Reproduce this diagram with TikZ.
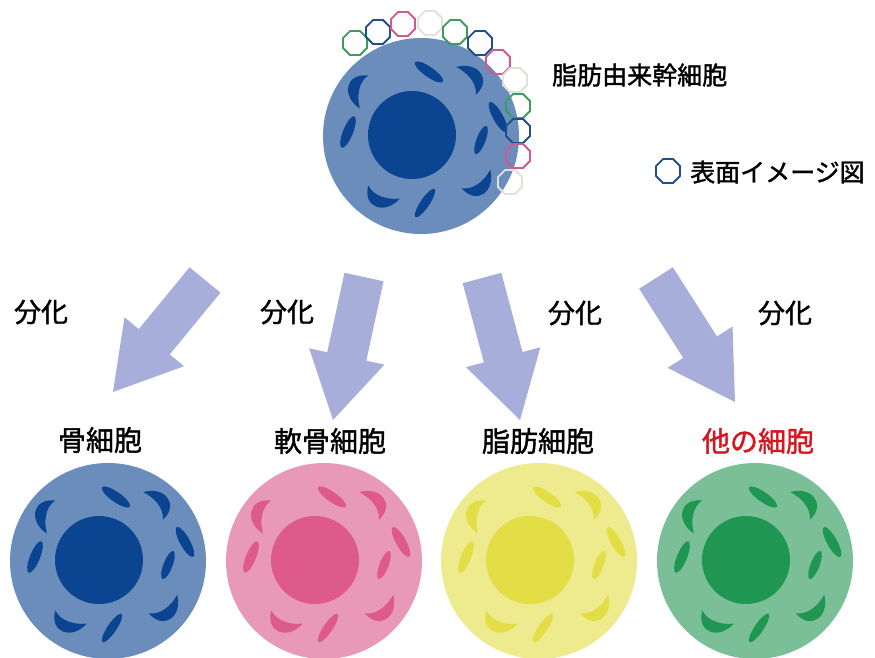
\documentclass[tikz,border=0pt]{standalone}
\usepackage{fontspec}
\newfontfamily\jp[FakeBold=1.4]{Noto Sans CJK JP}
\usetikzlibrary{calc,shapes.geometric}

\definecolor{bluebody}{HTML}{6A8DBB}
\definecolor{bluecore}{HTML}{0B4592}
\definecolor{pinkbody}{HTML}{E899B8}
\definecolor{pinkcore}{HTML}{DD5A8B}
\definecolor{yelbody}{HTML}{EEEB8E}
\definecolor{yelcore}{HTML}{E3DE46}
\definecolor{grnbody}{HTML}{7ABF98}
\definecolor{grncore}{HTML}{1F9651}
\definecolor{arrowlav}{HTML}{A8AEDA}
\definecolor{redlabel}{HTML}{D8141F}
\definecolor{ringgreen}{HTML}{3C9B60}
\definecolor{ringblue}{HTML}{1F4F8C}
\definecolor{ringpink}{HTML}{D2598E}
\definecolor{ringgrey}{HTML}{E2E2DA}

\tikzset{
  % a round cell: body, nucleus, crescent and oval organelles
  pics/cell/.style 2 args={code={
    \fill[#1] (0,0) circle[radius=98];
    \fill[#2] (-9,-1) circle[radius=44];
    \foreach \dx/\dy/\r in {-57/-44/-104, 45/-55/125, 55/43/33, -37/56/-23}
      \fill[#2, shift={(\dx,\dy)}, rotate=\r]
        (-17,0) .. controls (-14,23) and (10,21) .. (17,0)
                .. controls (6,6) and (-8,8) .. (-17,0) -- cycle;
    \foreach \dx/\dy/\r/\a/\b in {8/-64/-35/17/5, 77/-19/-61/17/5,
        60/4/69/15/4.5, 4/67/56/17/4.5, -73/-4/68/17/5}
      \fill[#2, shift={(\dx,\dy)}, rotate=\r] (0,0) ellipse[x radius=\a, y radius=\b];
  }},
  ring/.style={draw=#1, regular polygon, regular polygon sides=8,
    minimum size=26pt, inner sep=0pt, line width=1.8pt},
  difflabel/.style={font=\jp\fontsize{27}{30}\selectfont, inner sep=0pt},
  celllabel/.style={font=\jp\fontsize{28}{30}\selectfont, inner sep=0pt},
  toplabel/.style={font=\jp\fontsize{25}{28}\selectfont, inner sep=0pt},
}

% broad arrow from #1 (tail centre) to #2 (tip)
\newcommand\diffarrow[2]{%
  \coordinate (hb) at ($(#2)!65pt!(#1)$);
  \fill[arrowlav]
    ($(#1)!20pt!90:(#2)$) -- ($(hb)!20pt!90:(#2)$) -- ($(hb)!38.5pt!90:(#2)$)
    -- (#2)
    -- ($(hb)!38.5pt!-90:(#2)$) -- ($(hb)!20pt!-90:(#2)$) -- ($(#1)!20pt!-90:(#2)$)
    -- cycle;
}

\begin{document}
\begin{tikzpicture}[x=1pt, y=-1pt]
  \clip (0,0) rectangle (875,657);
  \fill[white] (0,0) rectangle (875,657);

  % stem cell with its surface markers
  \pic at (421,136) {cell={bluebody}{bluecore}};
  \foreach \px/\py/\c [count=\i] in {355/43/ringgreen, 378/32/ringblue, 403/24/ringpink,
      430/23/ringgrey, 455/32/ringgreen, 480/43/ringblue, 498/62/ringpink,
      515/80/ringgrey, 518/106/ringgreen, 518/131/ringblue, 518/156/ringpink,
      510/182/ringgrey}
    \node[ring=\c] (m\i) at (\px,\py) {};

  \node[toplabel, anchor=west] (stem) at (552,75) {脂肪由来幹細胞};
  \node[ring=ringblue] (legring) at (668,171) {};
  \node[toplabel, anchor=west] (legtext) at (690,172) {表面イメージ図};

  % differentiation arrows
  \coordinate (a1s) at (205,280); \coordinate (a1e) at (113,392);
  \coordinate (a2s) at (364,277); \coordinate (a2e) at (333,420);
  \coordinate (a3s) at (482,278); \coordinate (a3e) at (520,420);
  \coordinate (a4s) at (656,278); \coordinate (a4e) at (735,402);
  \diffarrow{a1s}{a1e}
  \diffarrow{a2s}{a2e}
  \diffarrow{a3s}{a3e}
  \diffarrow{a4s}{a4e}

  \node[difflabel] (d1) at (41,312) {分化};
  \node[difflabel] (d2) at (287,312) {分化};
  \node[difflabel] (d3) at (575,313) {分化};
  \node[difflabel] (d4) at (785,313) {分化};

  % differentiated cells
  \node[celllabel] (l1) at (100,440) {骨細胞};
  \node[celllabel] (l2) at (330,441) {軟骨細胞};
  \node[celllabel] (l3) at (538,441) {脂肪細胞};
  \node[celllabel, text=redlabel] (l4) at (758,441) {他の細胞};

  \pic at (108,561) {cell={bluebody}{bluecore}};
  \pic at (324,561) {cell={pinkbody}{pinkcore}};
  \pic at (539,561) {cell={yelbody}{yelcore}};
  \pic at (755,561) {cell={grnbody}{grncore}};
\end{tikzpicture}
\end{document}
